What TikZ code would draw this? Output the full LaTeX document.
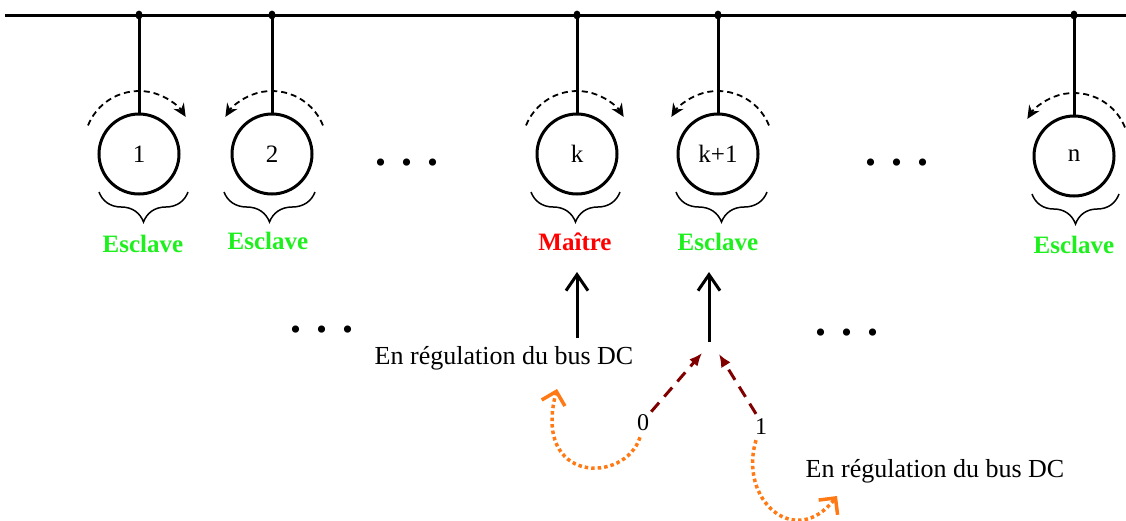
\documentclass[tikz,border=0pt]{standalone}
\usepackage{fontspec}
\setmainfont{Liberation Serif}
\usetikzlibrary{arrows.meta,calc,decorations.pathreplacing}
\definecolor{esclgreen}{RGB}{30,240,30}
\definecolor{maitrered}{RGB}{255,0,0}
\definecolor{darkred}{RGB}{128,0,0}
\definecolor{orng}{RGB}{255,122,20}
\tikzset{
  unit/.style={draw,circle,line width=3pt,minimum size=80pt,inner sep=0pt,font=\fontsize{25}{25}\selectfont},
  busline/.style={line width=3pt},
  tapline/.style={line width=3pt},
  tapdot/.style={fill=black},
  rotarc/.style={line width=1.8pt,dash pattern=on 6pt off 4pt,-{Stealth[length=13pt,width=12pt]}},
  bracestyle/.style={line width=1.5pt,decorate,decoration={brace,mirror,amplitude=30pt}},
  esclave/.style={text=esclgreen,font=\fontsize{25}{25}\selectfont\bfseries},
  maitre/.style={text=maitrered,font=\fontsize{25}{25}\selectfont\bfseries},
  dots/.style={anchor=base,font=\fontsize{44}{44}\selectfont\bfseries,inner sep=0pt},
  regtext/.style={font=\fontsize{26}{26}\selectfont,inner sep=0pt},
  bittext/.style={font=\fontsize{24}{24}\selectfont,inner sep=0pt},
  uparrow/.style={line width=3pt,-{Straight Barb[length=16pt,width=22pt]}},
  redarrow/.style={line width=3pt,darkred,dash pattern=on 12pt off 8pt,-{Latex[length=13pt,width=11pt]}},
  orangearrow/.style={line width=3.5pt,orng,dash pattern=on 3.5pt off 3pt,-{Straight Barb[length=12pt,width=24pt]}}
}
\begin{document}
\begin{tikzpicture}[x=1pt,y=1pt]
\useasboundingbox (0,0) rectangle (1126,-520);
% bus
\coordinate (busL) at (5,-15);
\coordinate (busR) at (1126,-15);
\draw[busline] (busL) -- (busR);
% units
\node[unit] (c1) at (139,-154) {1};
\node[unit] (c2) at (272,-154) {2};
\node[unit] (ck) at (577,-154) {k};
\node[unit] (ck1) at (718,-154) {k+1};
\node[unit] (cn) at (1074,-156) {n};
% taps
\foreach \n/\x in {c1/139,c2/272,ck/577,ck1/718,cn/1074}{
  \coordinate (t\n) at (\x,-15);
  \draw[tapline] (t\n) -- (\n.north);
  \fill[tapdot] (t\n) ellipse[x radius=3.5pt,y radius=4.5pt];
}
% rotation arcs
\draw[rotarc] ($(c1)+(0,8)+(158:55)$) arc[start angle=158,end angle=32,radius=55];
\draw[rotarc] ($(c2)+(0,8)+(22:55)$) arc[start angle=22,end angle=148,radius=55];
\draw[rotarc] ($(ck)+(0,8)+(158:55)$) arc[start angle=158,end angle=32,radius=55];
\draw[rotarc] ($(ck1)+(0,8)+(22:55)$) arc[start angle=22,end angle=148,radius=55];
\draw[rotarc] ($(cn)+(0,8)+(22:55)$) arc[start angle=22,end angle=148,radius=55];
% braces
\draw[bracestyle] (99,-192) -- (188,-192);
\draw[bracestyle] (224,-192) -- (315,-192);
\draw[bracestyle] (531,-192) -- (620,-192);
\draw[bracestyle] (676,-192) -- (767,-192);
\draw[bracestyle] (1032,-194) -- (1119,-194);
% labels
\node[esclave] (l1) at (143,-244) {Esclave};
\node[esclave] (l2) at (268,-241) {Esclave};
\node[maitre] (lk) at (575,-242) {Maître};
\node[esclave] (lk1) at (718,-242) {Esclave};
\node[esclave] (ln) at (1074,-245) {Esclave};
% dots
\node[dots] (d1) at (407,-165) {. . .};
\node[dots] (d2) at (897,-165) {. . .};
\node[dots] (d3) at (322,-332) {. . .};
\node[dots] (d4) at (847,-335) {. . .};
% up arrows
\coordinate (a1s) at (577,-338);
\coordinate (a1e) at (577,-272);
\coordinate (a2s) at (709,-342);
\coordinate (a2e) at (709,-272);
\draw[uparrow] (a1s) -- (a1e);
\draw[uparrow] (a2s) -- (a2e);
% texts
\node[regtext] (reg1) at (504,-358) {En régulation du bus DC};
\node[regtext] (reg2) at (935,-471) {En régulation du bus DC};
\node[bittext] (b0) at (643,-423) {0};
\node[bittext] (b1) at (761,-427) {1};
% red dashed arrows
\coordinate (r0e) at (702,-353);
\coordinate (r1e) at (719,-354);
\draw[redarrow] (b0.north east) ++(2,3) -- (r0e);
\draw[redarrow] (b1.north) ++(-5,5) -- (r1e);
% orange dotted arrows
\coordinate (o0e) at (557,-389);
\coordinate (o1e) at (837,-496);
\draw[orangearrow] ($(b0.south)+(-3,-6)$) .. controls (625,-484) and (532,-484) .. (o0e);
\draw[orangearrow] ($(b1.south)+(-5,-5)$) .. controls (738,-500) and (795,-550) .. (o1e);
\end{tikzpicture}
\end{document}
